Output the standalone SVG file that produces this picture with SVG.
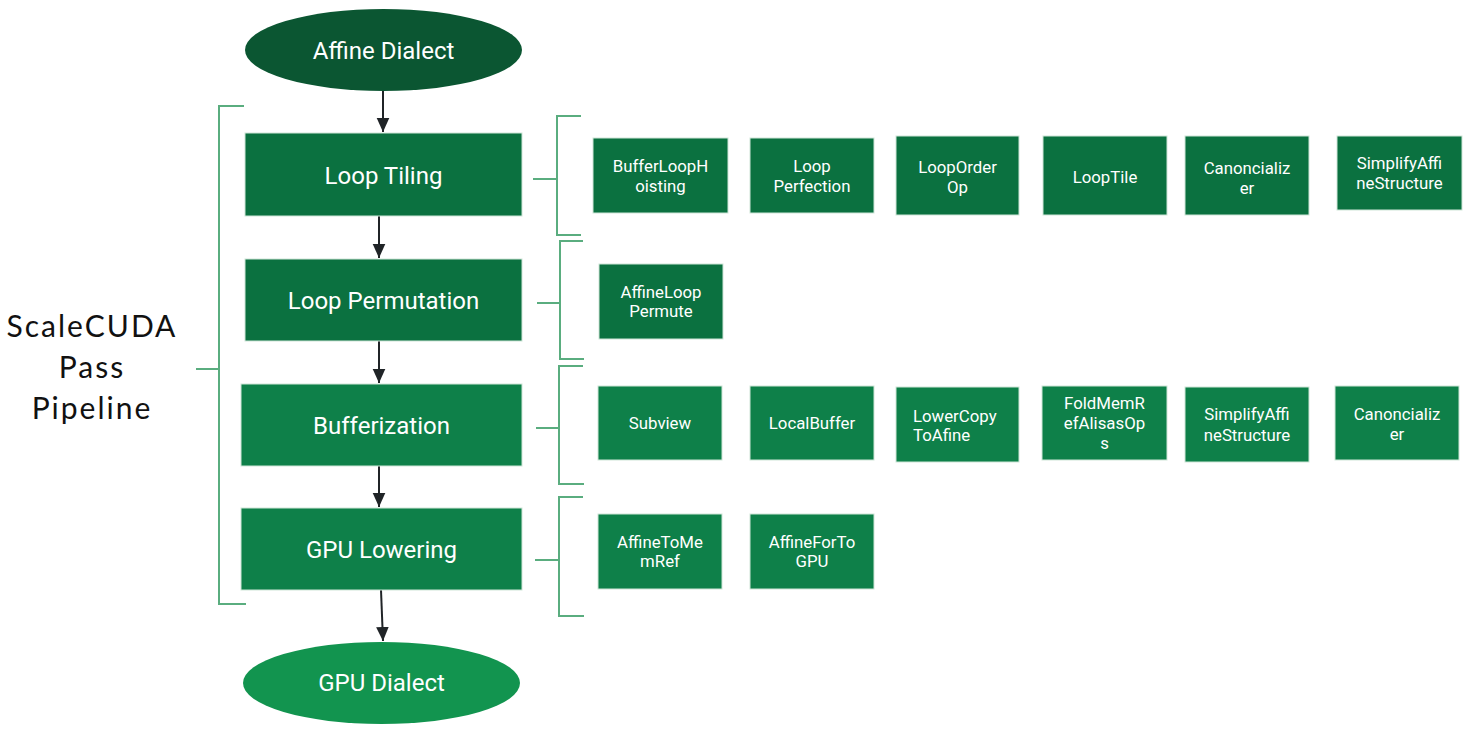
<svg xmlns="http://www.w3.org/2000/svg" width="1468" height="733" viewBox="0 0 1468 733">
<defs>
<marker id="ah" markerWidth="14" markerHeight="16" refX="10" refY="5" orient="auto" markerUnits="userSpaceOnUse" viewBox="0 0 10 10"><path d="M0,0.5 L10,5 L0,9.5 z" fill="#202427"/></marker>
<style>
.t{font-family:Roboto,"Liberation Sans",sans-serif;fill:#ffffff;text-anchor:middle}
.big{font-size:24px}
.sm{font-size:16.8px}
.box{stroke:#cfe6d8;stroke-width:1}
.d1{fill:#0b7140}
.d2{fill:#0e8049}
.br{fill:none;stroke:#5aad7f;stroke-width:2}
.ar{stroke:#202427;stroke-width:2;fill:none;marker-end:url(#ah)}
.lbl{font-family:Lato,"Noto Sans",sans-serif;font-size:30px;letter-spacing:2px;fill:#111;text-anchor:middle}
</style>
</defs>
<rect width="1468" height="733" fill="#ffffff"/>

<g id="connectors">
<line class="ar" x1="383" y1="91" x2="383" y2="132"/>
<line class="ar" x1="379" y1="216" x2="379" y2="258"/>
<line class="ar" x1="379" y1="341" x2="379" y2="383"/>
<line class="ar" x1="379" y1="466" x2="379" y2="507"/>
<line class="ar" x1="381" y1="590" x2="383" y2="641"/>
<path class="br" d="M244,106 H219 V604 H246 M196,369 H219"/>
<path class="br" d="M581,116 H557 V235 H581 M533,179 H557"/>
<path class="br" d="M583,241 H560 V359 H584 M537,303 H560"/>
<path class="br" d="M583,366 H559 V484 H584 M536,428 H559"/>
<path class="br" d="M583,497 H559 V616 H584 M535,560 H559"/>
</g>

<g id="label-pipeline">
<text class="lbl" x="92" y="337">ScaleCUDA</text>
<text class="lbl" x="92" y="378">Pass</text>
<text class="lbl" x="92" y="419">Pipeline</text>
</g>

<g id="affine-dialect">
<ellipse cx="383.5" cy="50" rx="138.5" ry="41" fill="#0b5632"/>
<text class="t big" x="383.5" y="59">Affine Dialect</text>
</g>
<g id="loop-tiling">
<rect class="box d1" x="245" y="133" width="277" height="83"/>
<text class="t big" x="383.5" y="184">Loop Tiling</text>
</g>
<g id="loop-permutation">
<rect class="box d1" x="245" y="259" width="277" height="82"/>
<text class="t big" x="383.5" y="309">Loop Permutation</text>
</g>
<g id="bufferization">
<rect class="box d2" x="241" y="384" width="281" height="82"/>
<text class="t big" x="381.5" y="434">Bufferization</text>
</g>
<g id="gpu-lowering">
<rect class="box d2" x="241" y="508" width="281" height="82"/>
<text class="t big" x="381.5" y="558">GPU Lowering</text>
</g>
<g id="gpu-dialect">
<ellipse cx="381.5" cy="683" rx="138.5" ry="41" fill="#12944f"/>
<text class="t big" x="381.5" y="691">GPU Dialect</text>
</g>

<g id="buffer-loop-hoisting">
<rect class="box d1" x="593" y="138" width="135" height="75"/>
<text class="t sm" x="660.5" y="172">BufferLoopH</text>
<text class="t sm" x="660.5" y="192">oisting</text>
</g>
<g id="loop-perfection">
<rect class="box d1" x="750" y="138" width="124" height="75"/>
<text class="t sm" x="812" y="172">Loop</text>
<text class="t sm" x="812" y="192">Perfection</text>
</g>
<g id="loop-order-op">
<rect class="box d1" x="896" y="136" width="123" height="79"/>
<text class="t sm" x="957.5" y="173">LoopOrder</text>
<text class="t sm" x="957.5" y="193">Op</text>
</g>
<g id="loop-tile">
<rect class="box d1" x="1043" y="136" width="124" height="79"/>
<text class="t sm" x="1105" y="183">LoopTile</text>
</g>
<g id="canonicalizer-1">
<rect class="box d1" x="1185" y="136" width="124" height="79"/>
<text class="t sm" x="1247" y="174">Canoncializ</text>
<text class="t sm" x="1247" y="194">er</text>
</g>
<g id="simplify-affine-1">
<rect class="box d1" x="1337" y="136" width="125" height="74"/>
<text class="t sm" x="1399.5" y="169">SimplifyAffi</text>
<text class="t sm" x="1399.5" y="189">neStructure</text>
</g>

<g id="affine-loop-permute">
<rect class="box d1" x="599" y="264" width="124" height="75"/>
<text class="t sm" x="661" y="298">AffineLoop</text>
<text class="t sm" x="661" y="317">Permute</text>
</g>

<g id="subview">
<rect class="box d2" x="598" y="386" width="124" height="74"/>
<text class="t sm" x="660" y="429">Subview</text>
</g>
<g id="local-buffer">
<rect class="box d2" x="750" y="386" width="124" height="74"/>
<text class="t sm" x="812" y="429">LocalBuffer</text>
</g>
<g id="lower-copy-to-afine">
<rect class="box d2" x="896" y="387" width="123" height="75"/>
<text class="t sm" x="913" y="422" style="text-anchor:start">LowerCopy</text>
<text class="t sm" x="913" y="441" style="text-anchor:start">ToAfine</text>
</g>
<g id="fold-memref">
<rect class="box d2" x="1042" y="386" width="125" height="74"/>
<text class="t sm" x="1104.5" y="409">FoldMemR</text>
<text class="t sm" x="1104.5" y="429">efAlisasOp</text>
<text class="t sm" x="1104.5" y="449">s</text>
</g>
<g id="simplify-affine-2">
<rect class="box d2" x="1185" y="387" width="124" height="75"/>
<text class="t sm" x="1247" y="420">SimplifyAffi</text>
<text class="t sm" x="1247" y="441">neStructure</text>
</g>
<g id="canonicalizer-2">
<rect class="box d2" x="1335" y="386" width="124" height="74"/>
<text class="t sm" x="1397" y="420">Canoncializ</text>
<text class="t sm" x="1397" y="440">er</text>
</g>

<g id="affine-to-memref">
<rect class="box d2" x="598" y="514" width="124" height="75"/>
<text class="t sm" x="660" y="548">AffineToMe</text>
<text class="t sm" x="660" y="567">mRef</text>
</g>
<g id="affine-for-to-gpu">
<rect class="box d2" x="750" y="514" width="124" height="75"/>
<text class="t sm" x="812" y="548">AffineForTo</text>
<text class="t sm" x="812" y="567">GPU</text>
</g>
</svg>
